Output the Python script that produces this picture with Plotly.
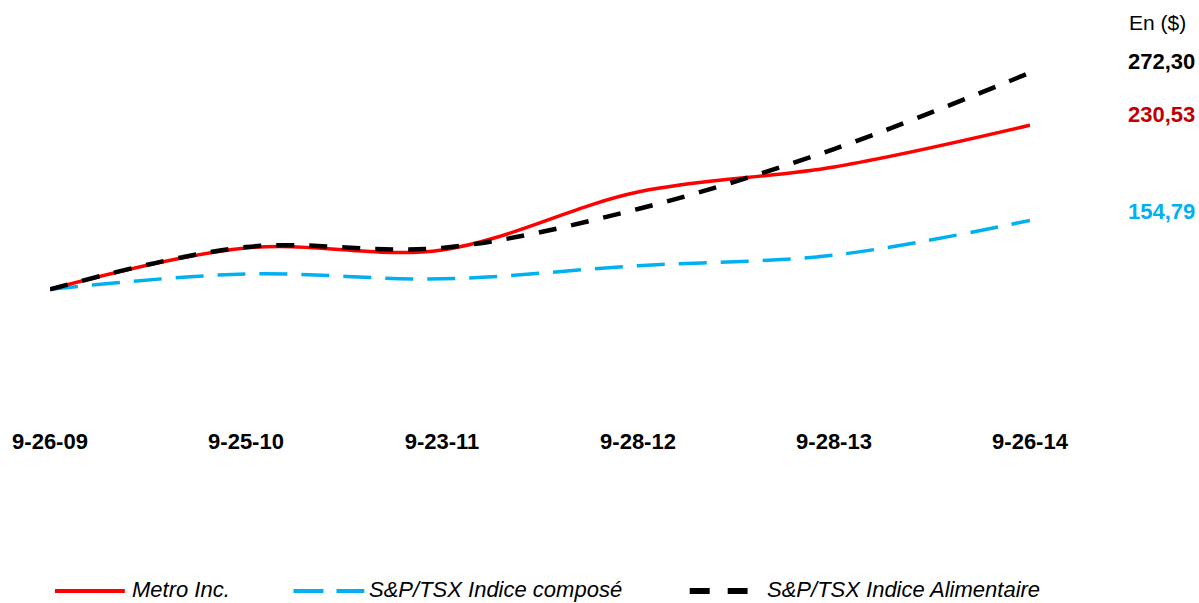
import plotly.graph_objects as go

# ---- data ----
dates = ["9-26-09", "9-25-10", "9-23-11", "9-28-12", "9-28-13", "9-26-14"]
metro = [100.0, 132.9, 131.3, 177.4, 197.3, 230.53]
composite = [100.0, 112.2, 108.3, 118.8, 127.2, 154.79]
food = [100.0, 133.6, 132.9, 163.9, 211.6, 272.30]
names = ["Metro Inc.", "S&P/TSX Indice composé", "S&P/TSX Indice Alimentaire"]

FONT = "Liberation Sans, Arial, sans-serif"
W, H = 1199, 603
L, R = 48, 1030          # plot area x pixels
T, B = 30, 426           # plot area y pixels
Y0_PX, PX_PER_UNIT = 289.3, 1.2571
y_hi = 100 + (Y0_PX - T) / PX_PER_UNIT
y_lo = 100 - (B - Y0_PX) / PX_PER_UNIT


def px(x):
    return (x - L) / (R - L)


def py(y):
    return (B - y) / (B - T)


xs = list(range(len(dates)))
fig = go.Figure()
fig.add_trace(go.Scatter(x=xs, y=composite, mode="lines", name=names[1],
                         line=dict(color="#00B0F0", width=3.5, dash="28px,14px",
                                   shape="spline", smoothing=1.0)))
fig.add_trace(go.Scatter(x=xs, y=metro, mode="lines", name=names[0],
                         line=dict(color="#FF0000", width=3.5,
                                   shape="spline", smoothing=1.0)))
fig.add_trace(go.Scatter(x=xs, y=food, mode="lines", name=names[2],
                         line=dict(color="#000000", width=4.5, dash="18px,15px",
                                   shape="spline", smoothing=1.0)))

annotations = []
annotations.append(dict(x=px(1188), y=py(23), xref="paper", yref="paper",
                        text="En ($)", showarrow=False, xanchor="right", yanchor="middle",
                        font=dict(family=FONT, size=21, color="#000000")))


def fmt(v):
    return f"{v:.2f}".replace(".", ",")


for val, ypix, col in [(food[-1], 62, "#000000"), (metro[-1], 114, "#C00000"),
                       (composite[-1], 212, "#00B0F0")]:
    annotations.append(dict(x=px(1197), y=py(ypix), xref="paper", yref="paper",
                            text=f"<b>{fmt(val)}</b>", showarrow=False,
                            xanchor="right", yanchor="middle",
                            font=dict(family=FONT, size=22, color=col)))

# manual legend
shapes = []
leg_y = 591
legend_items = [
    (names[0], "#FF0000", 4, "solid", 53, 123, 129),
    (names[1], "#00B0F0", 4, "30px,13px", 292, 363, 367),
    (names[2], "#000000", 6, "20px,18px", 689, 747, 765),
]
for name, col, wd, dash, x0, x1, xt in legend_items:
    shapes.append(dict(type="line", xref="paper", yref="paper",
                       x0=px(x0), x1=px(x1), y0=py(leg_y), y1=py(leg_y),
                       line=dict(color=col, width=wd, dash=dash)))
    annotations.append(dict(x=px(xt), y=py(leg_y - 2), xref="paper", yref="paper",
                            text=f"<i>{name}</i>", showarrow=False,
                            xanchor="left", yanchor="middle", borderpad=0,
                            font=dict(family=FONT, size=22, color="#000000")))

fig.update_layout(
    width=W, height=H,
    margin=dict(l=L, r=W - R, t=T, b=H - B, pad=0),
    paper_bgcolor="white", plot_bgcolor="white",
    showlegend=False,
    annotations=annotations,
    shapes=shapes,
    font=dict(family=FONT),
)
fig.update_xaxes(range=[0, len(dates) - 1], tickmode="array", tickvals=xs,
                 ticktext=[f"<b>{d}</b>" for d in dates],
                 tickfont=dict(family=FONT, size=22, color="#000000"),
                 showgrid=False, zeroline=False, showline=False, ticks="")
fig.update_yaxes(range=[y_lo, y_hi], visible=False, showgrid=False, zeroline=False)

fig.write_html("out.html",
               config={"displayModeBar": False},
               post_script="document.body.style.margin='0';"
                           "document.body.style.overflow='hidden';"
                           "document.documentElement.style.overflow='hidden';")
